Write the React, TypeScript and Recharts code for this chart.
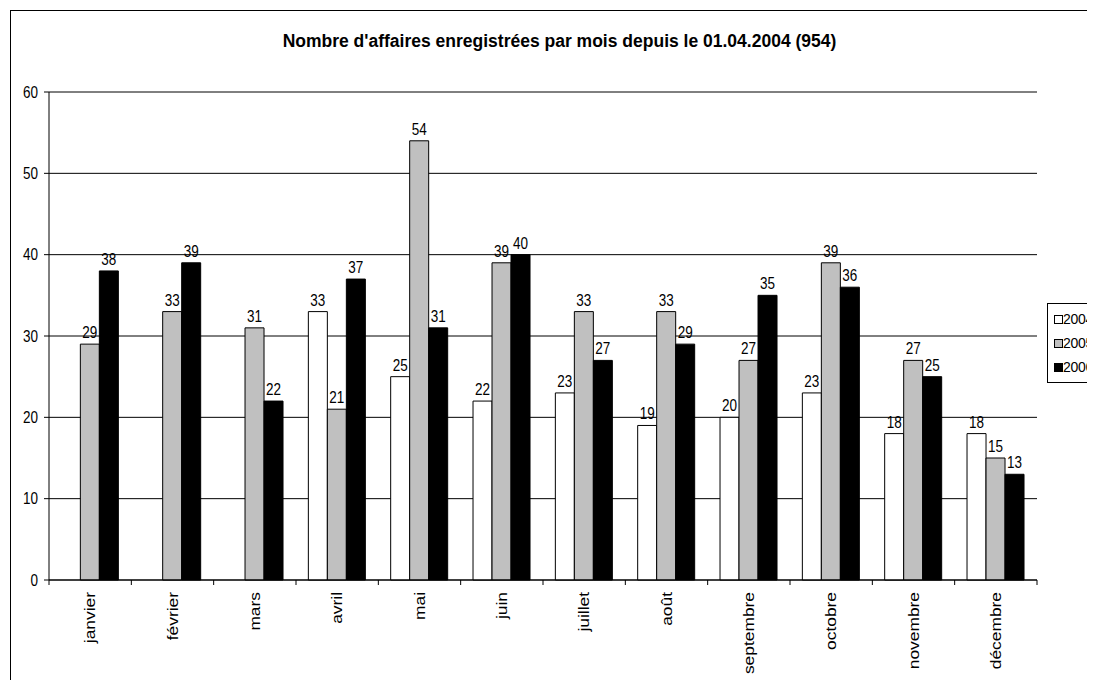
import React from "react";
import { BarChart, Bar, XAxis, YAxis, CartesianGrid, LabelList } from "recharts";

const months = ["janvier", "février", "mars", "avril", "mai", "juin", "juillet", "août", "septembre", "octobre", "novembre", "décembre"];
const s2004: (number | null)[] = [null, null, null, 33, 25, 22, 23, 19, 20, 23, 18, 18];
const s2005 = [29, 33, 31, 21, 54, 39, 33, 33, 27, 39, 27, 15];
const s2006 = [38, 39, 22, 37, 31, 40, 27, 29, 35, 36, 25, 13];
const yTicks = [0, 10, 20, 30, 40, 50, 60];
const seriesNames = ["2004", "2005", "2006"];
const seriesKeys = ["y2004", "y2005", "y2006"];
const seriesColors = ["#ffffff", "#c0c0c0", "#000000"];
const title = "Nombre d'affaires enregistrées par mois depuis le 01.04.2004 (954)";

const data = months.map((m, i) => ({ month: m, y2004: s2004[i], y2005: s2005[i], y2006: s2006[i] }));

const FONT = "'Liberation Sans', Arial, sans-serif";
const STRETCH = 1.2;

const MonthTick = (props: any) => {
  const { x, y, payload, index, visibleTicksCount } = props;
  const off = payload && typeof payload.offset === "number" ? payload.offset : 0;
  const isLast = index === visibleTicksCount - 1;
  return (
    <g>
      <line x1={x - off} x2={x - off} y1={y} y2={y + 5} stroke="#000" />
      {isLast && <line x1={x + off} x2={x + off} y1={y} y2={y + 5} stroke="#000" />}
      <g transform={`translate(${x},${y})`}>
        <text transform={`rotate(-90) scale(${STRETCH} 1)`} x={-10} y={0} dy="0.35em" textAnchor="end" fontSize={14.5} fill="#000" fontFamily={FONT}>
          {payload.value}
        </text>
      </g>
    </g>
  );
};

const ValueTick = (props: any) => {
  const { x, y, payload } = props;
  return (
    <g transform={`translate(${x},${y}) scale(1 ${STRETCH})`}>
      <text x={0} y={0} dy="0.35em" textAnchor="end" fontSize={13.5} fill="#000" fontFamily={FONT}>
        {payload.value}
      </text>
    </g>
  );
};

const BarValue = (props: any) => {
  const { x, y, width, value } = props;
  if (value === null || value === undefined) return null;
  return (
    <g transform={`translate(${x + width / 2},${y - 6}) scale(1 ${STRETCH})`}>
      <text x={0} y={0} textAnchor="middle" fontSize={13.5} fill="#000" fontFamily={FONT}>
        {value}
      </text>
    </g>
  );
};

const LegendBox = () => (
  <div style={{ position: "absolute", left: 1039, top: 295, border: "1px solid #000", background: "#fff", padding: "3px 0 3px 6px", width: 70, fontFamily: FONT, fontSize: 14, lineHeight: "24px" }}>
    {seriesNames.map((n, i) => (
      <div key={n} style={{ display: "flex", alignItems: "center", whiteSpace: "nowrap" }}>
        <span style={{ display: "inline-block", width: 7, height: 7, border: "1px solid #000", background: seriesColors[i], marginRight: 0 }} />
        <span style={{ letterSpacing: -0.3 }}>{n}</span>
      </div>
    ))}
  </div>
);

export default function App() {
  return (
    <div style={{ position: "relative", width: 1087, height: 672, overflow: "hidden", background: "#fff" }}>
      <div style={{ position: "absolute", left: 2, top: 2, width: 1200, height: 800, border: "1px solid #000", boxSizing: "border-box" }} />
      <div style={{ position: "absolute", left: 0, top: 23, width: 1103, textAlign: "center", fontFamily: FONT, fontWeight: "bold", fontSize: 17.5, color: "#000", whiteSpace: "nowrap" }}>
        {title}
      </div>
      <div style={{ position: "absolute", left: 0, top: 0 }}>
        <BarChart width={1087} height={672} data={data} margin={{ top: 84, right: 58, left: 0, bottom: 0 }} barCategoryGap="15%" barGap={0}>
          <CartesianGrid horizontal vertical={false} stroke="#000" strokeWidth={1} />
          <XAxis dataKey="month" height={100} axisLine={{ stroke: "#000" }} tickLine={false} tickSize={0} tickMargin={0} tick={MonthTick} interval={0} />
          <YAxis domain={[0, 60]} ticks={yTicks} width={41} axisLine={{ stroke: "#000" }} tickLine={{ stroke: "#000" }} tickSize={5} tickMargin={6} tick={ValueTick} interval={0} />
          {seriesKeys.map((k, i) => (
            <Bar key={k} dataKey={k} name={seriesNames[i]} fill={seriesColors[i]} stroke="#000" strokeWidth={1} isAnimationActive={false}>
              <LabelList dataKey={k} content={BarValue} />
            </Bar>
          ))}
        </BarChart>
      </div>
      <LegendBox />
    </div>
  );
}
